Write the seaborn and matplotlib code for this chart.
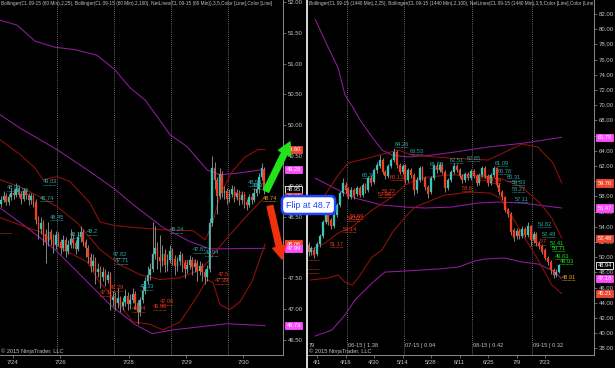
import numpy as np
import pandas as pd
import matplotlib
matplotlib.use("Agg")
import matplotlib.pyplot as plt
import matplotlib.transforms as mtrans
from matplotlib.lines import Line2D
import seaborn as sns

# ---------------- data: left panel (CL 09-15, 60 min) ----------------
l_open = [48.72, 48.78, 48.85, 48.75, 48.82, 48.90, 48.86, 48.95, 48.88, 48.80,
          48.92, 48.86, 48.78, 48.84, 48.74, 48.45, 48.30, 48.40, 48.22, 48.10,
          48.25, 48.15, 48.05, 48.20, 48.10, 48.00, 48.12, 47.95, 48.05, 48.15,
          48.08, 47.98, 48.18, 48.25, 48.10, 48.00, 47.85, 47.70, 47.78, 47.60,
          47.65, 47.52, 47.60, 47.48, 47.55, 47.15, 47.20, 47.10, 47.18, 47.05,
          47.12, 47.22, 47.08, 47.15, 47.25, 47.10, 46.95, 47.15, 47.30, 47.45,
          47.55, 47.65, 47.90, 48.00, 47.85, 47.78, 47.90, 47.72, 47.80, 47.95,
          47.82, 47.70, 47.78, 47.88, 47.75, 47.65, 47.72, 47.80, 47.68, 47.75,
          47.62, 47.70, 47.60, 47.52, 47.65, 48.40, 49.30, 49.10, 48.85, 49.20,
          48.90, 48.92, 48.80, 48.88, 48.95, 48.82, 48.90, 48.78, 48.86, 48.75,
          48.70, 48.82, 48.78, 48.90, 48.95, 49.15, 49.27]
l_close = [48.78, 48.85, 48.75, 48.82, 48.90, 48.86, 48.95, 48.88, 48.80, 48.92,
           48.86, 48.78, 48.84, 48.74, 48.45, 48.30, 48.40, 48.22, 48.10, 48.25,
           48.15, 48.05, 48.20, 48.10, 48.00, 48.12, 47.95, 48.05, 48.15, 48.08,
           47.98, 48.18, 48.25, 48.10, 48.00, 47.85, 47.70, 47.78, 47.60, 47.65,
           47.52, 47.60, 47.48, 47.55, 47.15, 47.20, 47.10, 47.18, 47.05, 47.12,
           47.22, 47.08, 47.15, 47.25, 47.10, 46.95, 47.15, 47.30, 47.45, 47.55,
           47.65, 47.90, 48.00, 47.85, 47.78, 47.90, 47.72, 47.80, 47.95, 47.82,
           47.70, 47.78, 47.88, 47.75, 47.65, 47.72, 47.80, 47.68, 47.75, 47.62,
           47.70, 47.60, 47.52, 47.65, 48.40, 49.30, 49.10, 48.85, 49.20, 48.90,
           48.92, 48.80, 48.88, 48.95, 48.82, 48.90, 48.78, 48.86, 48.75, 48.70,
           48.82, 48.78, 48.90, 48.95, 49.15, 49.30, 48.95]
l_high = [48.84, 48.92, 48.90, 48.88, 48.98, 48.96, 49.05, 49.00, 48.92, 48.98,
          48.96, 48.90, 48.90, 48.88, 48.80, 48.52, 48.50, 48.45, 48.30, 48.42,
          48.30, 48.22, 48.28, 48.25, 48.15, 48.20, 48.18, 48.12, 48.30, 48.22,
          48.12, 48.25, 48.35, 48.30, 48.15, 48.05, 47.92, 47.90, 47.85, 47.75,
          47.70, 47.68, 47.65, 47.62, 47.60, 47.30, 47.28, 47.35, 47.22, 47.20,
          47.32, 47.28, 47.25, 47.35, 47.30, 47.15, 47.20, 47.38, 47.52, 47.70,
          47.75, 48.42, 48.35, 48.10, 48.20, 48.05, 47.98, 47.90, 48.05, 48.00,
          47.88, 47.85, 47.95, 47.92, 47.80, 47.80, 47.88, 47.85, 47.82, 47.80,
          47.78, 47.75, 47.65, 47.72, 48.48, 49.50, 49.40, 49.15, 49.30, 49.25,
          49.00, 48.98, 48.95, 49.02, 49.00, 48.96, 48.94, 48.92, 48.90, 48.80,
          48.88, 48.90, 48.98, 49.05, 49.22, 49.38, 49.32]
l_low = [48.66, 48.74, 48.70, 48.70, 48.78, 48.80, 48.83, 48.82, 48.72, 48.76,
         48.80, 48.70, 48.72, 48.66, 48.38, 48.15, 48.22, 48.05, 47.75, 48.02,
         48.05, 47.92, 47.98, 48.02, 47.90, 47.95, 47.85, 47.90, 48.00, 48.00,
         47.90, 47.95, 48.10, 48.02, 47.85, 47.75, 47.60, 47.62, 47.40, 47.52,
         47.35, 47.45, 47.38, 47.42, 46.98, 47.05, 46.98, 47.02, 46.95, 46.98,
         47.05, 46.98, 47.00, 47.10, 47.00, 46.75, 46.88, 47.10, 47.25, 47.40,
         47.48, 47.60, 47.82, 47.65, 47.60, 47.70, 47.60, 47.62, 47.75, 47.72,
         47.55, 47.62, 47.72, 47.60, 47.50, 47.58, 47.65, 47.55, 47.60, 47.45,
         47.55, 47.45, 47.40, 47.45, 47.60, 48.35, 48.95, 48.55, 48.80, 48.82,
         48.80, 48.72, 48.75, 48.82, 48.75, 48.78, 48.70, 48.72, 48.65, 48.62,
         48.66, 48.72, 48.74, 48.85, 48.90, 49.10, 48.88]

# Bollinger lines, left (bar index, price)
l_bb100_up_x = [-0.5, 6.4, 13.6, 21.7, 29.7, 38.6, 41.0, 45.9, 51.9, 58.0, 63.2, 68.1, 74.9, 83.0, 88.2, 96.3, 106.4]
l_bb100_up_y = [51.71, 51.63, 51.37, 51.27, 51.23, 51.14, 51.06, 50.90, 50.61, 50.41, 50.12, 49.84, 49.65, 49.27, 49.19, 49.22, 49.28]
l_bb100_mid_x = [-0.5, 7.6, 22.5, 35.8, 45.9, 53.9, 65.2, 76.1, 84.2, 106.4]
l_bb100_mid_y = [50.17, 49.95, 49.60, 49.24, 48.95, 48.68, 48.33, 48.10, 47.98, 47.99]
l_bb100_lo_x = [-0.5, 11.6, 21.7, 31.8, 43.9, 53.9, 60.8, 69.3, 80.1, 91.0, 106.4]
l_bb100_lo_y = [48.65, 48.29, 47.97, 47.56, 47.07, 46.75, 46.60, 46.66, 46.71, 46.76, 46.73]
l_bb25_up_x = [-0.5, 7.6, 13.6, 16.8, 22.5, 27.7, 35.8, 39.8, 45.9, 53.9, 66.0, 77.3, 82.2, 85.0, 88.2, 93.1, 98.3, 103.5, 106.4]
l_bb25_up_y = [49.76, 49.52, 49.30, 49.11, 49.16, 49.08, 48.73, 48.42, 48.36, 48.33, 48.29, 48.28, 48.13, 48.37, 48.86, 49.24, 49.48, 49.60, 49.60]
l_bb25_mid_x = [-0.5, 7.6, 15.6, 22.5, 30.5, 39.8, 47.9, 56.0, 64.0, 72.1, 80.1, 83.4, 86.2, 92.2, 98.3, 106.4]
l_bb25_mid_y = [49.11, 48.99, 48.83, 48.67, 48.41, 47.97, 47.72, 47.56, 47.48, 47.51, 47.64, 47.77, 47.93, 48.21, 48.49, 48.83]
l_bb25_lo_x = [-0.5, 7.6, 15.6, 24.9, 34.6, 39.8, 47.9, 53.1, 60.0, 65.2, 72.1, 78.1, 83.0, 85.4, 88.2, 92.2, 96.3, 101.1, 106.4]
l_bb25_lo_y = [48.49, 48.37, 48.26, 47.97, 47.77, 47.43, 47.07, 46.79, 46.75, 46.66, 46.79, 47.15, 47.48, 47.43, 47.07, 46.99, 47.12, 47.45, 48.06]

l_dates = ["7/24", "7/26", "7/28", "7/29", "7/30"]
l_sessions = [22.5, 45.5, 68.5, 91.5]

l_teal_lab = ["48.96", "48.90", "49.03", "48.74", "48.45", "48.18", "48.2", "47.82", "47.71",
              "48.24", "47.33", "47.87", "47.94", "48.93", "48.97"]
l_teal_x = [2.3, 5.5, 16.8, 15.6, 19.7, 27.7, 34.6, 45.1, 45.9, 68.0, 56.0, 77.3, 82.2, 99.5, 101.0]
l_teal_y = [48.98, 48.93, 49.08, 48.81, 48.50, 48.21, 48.26, 47.89, 47.79, 48.29, 47.36, 47.97, 47.92, 49.06, 49.01]
l_red_lab = ["47.29", "47.1", "47.06", "46.94", "46.96", "47.5", "47.39", "47.61", "48.71"]
l_red_x = [43.9, 39.8, 64.0, 52.7, 61.2, 87.4, 86.2, 73.3, 93.5]
l_red_y = [47.35, 47.27, 47.12, 47.01, 47.04, 47.56, 47.46, 47.76, 48.86]
l_orange_lab = ["48.74"]
l_orange_x = [105.5]
l_orange_y = [48.81]

l_tags = ["49.60", "49.28", "48.95", "48.83", "48.06", "47.99", "46.73"]
l_tag_kind = ["red", "mag", "last", "red", "red", "mag", "mag"]

# ---------------- data: right panel (CL 09-15, daily) ----------------
r_open = [51.60, 50.68, 50.94, 50.41, 51.73, 52.78, 54.62, 55.94, 54.89, 54.10,
          55.55, 56.86, 58.44, 59.49, 59.10, 57.91, 58.84, 58.31, 59.10, 58.18,
          59.49, 58.84, 60.42, 59.90, 61.47, 61.99, 62.78, 61.20, 60.68, 61.99,
          62.78, 63.84, 62.13, 61.20, 61.99, 60.15, 61.47, 60.81, 58.84, 60.15,
          61.73, 60.42, 59.23, 58.57, 60.42, 61.99, 61.47, 62.13, 61.20, 59.10,
          60.15, 61.20, 61.99, 61.47, 60.68, 60.15, 60.94, 60.42, 61.34, 60.68,
          59.76, 60.81, 61.73, 60.68, 59.76, 60.81, 61.73, 59.49, 58.57, 57.91,
          56.20, 55.68, 53.57, 52.78, 53.44, 52.78, 53.70, 52.91, 54.10, 52.26,
          53.05, 51.86, 51.47, 50.94, 49.89, 49.36, 48.31, 47.65, 48.10]
r_close = [50.68, 51.20, 50.28, 51.73, 52.78, 54.62, 56.20, 54.62, 54.10, 55.55,
           56.86, 58.44, 59.76, 58.84, 57.91, 58.84, 58.05, 59.10, 58.18, 59.49,
           58.84, 60.42, 59.76, 61.47, 62.13, 62.78, 61.20, 60.68, 61.99, 62.78,
           63.84, 62.13, 61.20, 61.99, 60.15, 61.47, 60.81, 58.84, 60.15, 61.73,
           60.42, 59.23, 58.31, 60.42, 61.99, 61.47, 62.13, 61.20, 59.10, 60.15,
           61.20, 61.99, 61.47, 60.68, 60.15, 60.94, 60.42, 61.34, 60.68, 59.76,
           60.81, 61.73, 60.68, 59.76, 60.81, 61.73, 59.49, 58.57, 57.91, 56.20,
           55.68, 53.31, 52.52, 53.44, 52.78, 53.70, 52.91, 54.10, 52.26, 53.05,
           51.86, 51.47, 50.68, 49.89, 49.36, 48.31, 47.65, 48.10, 48.94]
r_high = [52.00, 51.50, 51.30, 52.00, 53.10, 54.90, 56.60, 56.10, 55.20, 55.80,
          57.10, 58.70, 60.42, 59.90, 59.30, 59.20, 59.10, 59.40, 59.40, 59.80,
          59.80, 60.70, 60.80, 61.80, 62.50, 63.44, 63.00, 61.50, 62.30, 63.10,
          64.36, 64.10, 62.40, 62.30, 62.20, 61.80, 61.70, 61.10, 60.50, 62.00,
          62.00, 60.70, 59.50, 60.70, 62.30, 62.40, 62.50, 62.40, 61.50, 60.40,
          61.50, 62.40, 62.30, 61.70, 60.90, 61.20, 61.20, 61.60, 61.60, 60.90,
          61.10, 62.00, 62.00, 60.90, 61.10, 62.00, 61.90, 59.80, 58.80, 58.10,
          56.50, 55.90, 53.80, 53.80, 53.70, 54.10, 54.00, 54.62, 54.30, 53.40,
          53.30, 52.10, 51.70, 51.20, 50.10, 49.60, 48.60, 48.40, 49.10]
r_low = [50.15, 50.30, 49.90, 50.20, 51.40, 52.50, 54.40, 54.30, 53.70, 53.90,
         55.30, 56.60, 58.10, 58.40, 57.60, 57.60, 57.70, 58.00, 57.90, 57.90,
         58.50, 58.60, 59.40, 59.60, 61.10, 61.70, 60.90, 60.30, 60.40, 61.70,
         62.50, 61.80, 60.90, 60.90, 59.80, 59.90, 60.40, 58.18, 58.50, 59.90,
         60.10, 58.90, 57.78, 58.30, 60.10, 61.10, 61.20, 60.90, 58.60, 58.80,
         59.90, 60.90, 61.20, 60.40, 59.80, 59.90, 60.10, 60.10, 60.40, 59.40,
         59.50, 60.50, 60.40, 59.40, 59.50, 60.50, 59.20, 58.20, 57.50, 55.90,
         55.30, 52.90, 52.10, 52.40, 52.40, 52.50, 52.60, 52.70, 51.47, 51.90,
         51.50, 51.10, 50.40, 49.60, 49.00, 47.78, 47.26, 47.40, 47.90]

r_bb100_up_x = [2.3, 6.5, 10.4, 12.8, 15.3, 18.1, 22.3, 25.8, 29.3, 34.9, 43.3, 51.4, 63.0, 75.9, 88.9]
r_bb100_up_y = [81.34, 77.92, 74.89, 71.34, 69.89, 68.05, 65.81, 64.10, 63.44, 63.18, 63.44, 63.84, 64.49, 65.02, 65.78]
r_bb100_mid_x = [2.3, 10.4, 16.3, 25.8, 33.9, 40.9, 50.4, 59.5, 66.5, 74.9, 80.5, 88.9]
r_bb100_mid_y = [60.41, 58.84, 57.78, 56.86, 56.60, 56.47, 56.60, 57.13, 57.26, 57.13, 56.86, 56.47]
r_bb100_lo_x = [2.3, 8.2, 12.8, 16.3, 22.3, 26.8, 33.9, 45.4, 52.5, 58.4, 61.9, 68.9, 74.9, 80.5, 85.4, 88.9]
r_bb100_lo_y = [39.62, 40.41, 42.39, 44.36, 46.60, 48.04, 48.18, 48.44, 48.70, 49.49, 49.76, 49.89, 49.36, 49.10, 48.31, 47.18]
r_bb25_up_x = [0.5, 5.8, 10.4, 13.9, 22.3, 31.4, 36.3, 48.9, 63.0, 69.0, 74.9, 80.5, 85.8, 88.9]
r_bb25_up_y = [55.55, 58.18, 60.81, 62.39, 63.18, 64.10, 63.44, 63.05, 62.78, 63.84, 64.89, 64.49, 62.39, 59.76]
r_bb25_mid_x = [0.5, 5.8, 10.4, 15.3, 22.3, 29.3, 33.9, 39.1, 48.9, 56.7, 63.7, 69.0, 74.9, 81.2, 85.4, 88.9]
r_bb25_mid_y = [50.94, 51.86, 53.18, 53.97, 56.20, 57.91, 59.49, 60.41, 60.81, 60.81, 60.55, 60.15, 59.23, 57.13, 55.15, 52.48]
r_bb25_lo_x = [0.5, 6.8, 10.4, 12.8, 15.3, 17.4, 22.3, 25.8, 29.3, 33.9, 37.4, 47.9, 56.7, 63.7, 67.2, 70.7, 75.3, 80.2, 85.4, 88.9]
r_bb25_lo_y = [46.99, 47.26, 47.65, 46.73, 46.33, 47.26, 50.02, 50.94, 53.18, 55.28, 56.60, 58.18, 58.57, 58.44, 57.78, 55.81, 52.91, 49.89, 46.33, 45.21]

r_dates = ["4/1", "4/16", "4/30", "5/14", "5/28", "6/11", "6/25", "7/9", "7/23"]
r_date_pos = [3, 13, 23, 33, 43, 53, 63, 73, 83]
r_rolls = ["79", "06-15 | 1.38", "07-15 | 0.94", "08-15 | 0.42", "09-15 | 0.32"]
r_roll_pos = [-0.1, 13.5, 33.5, 57.5, 78.5]

r_teal_lab = ["64.26", "63.53", "60.26", "61.58", "62.51", "62.65", "61.09", "60.78", "60.31",
              "59.93", "58.27", "57.11", "53.82", "52.49"]
r_teal_x = [30.4, 35.6, 18.8, 42.6, 49.6, 55.6, 65.4, 66.5, 69.6, 71.4, 71.4, 72.5, 80.5, 81.9]
r_teal_y = [64.89, 63.97, 60.81, 62.13, 62.78, 63.05, 62.39, 61.34, 60.42, 59.89, 58.97, 57.65, 54.36, 53.05]
r_green_lab = ["52.41", "50.71", "49.63", "49.03"]
r_green_x = [84.7, 85.4, 86.5, 88.2]
r_green_y = [51.86, 51.20, 50.15, 49.49]
r_red_lab = ["60.13", "58.22", "57.96", "54.69", "54.52", "53.14", "51.17", "58.6", "59.59", "60.04", "51.57"]
r_red_x = [28.6, 25.8, 24.4, 14.6, 13.5, 12.1, 7.5, 53.9, 63.0, 59.1, 78.8]
r_red_y = [60.55, 58.70, 58.31, 55.41, 55.15, 53.70, 51.73, 59.10, 60.15, 60.55, 52.00]
r_orange_lab = ["48.91"]
r_orange_x = [88.9]
r_orange_y = [47.39]

r_tags = ["65.78", "59.76", "56.47", "52.48", "48.94", "47.18", "45.21"]
r_tag_kind = ["mag", "red", "mag", "red", "last", "mag", "red"]

# ---------------- style ----------------
UP = "#3cc4b8"
DN = "#f0401e"
WICK = "#8e8e8e"
MAG = "#931c9e"
DRED = "#92120a"
TEAL_T = "#2fa9a9"
RED_T = "#ee3a1c"
GREEN_T = "#1fe01f"
ORANGE_T = "#e8a020"
GRID = "#8a8a8a"
TXT = "#c4c4c4"
TAGC = {"red": "#f0462e", "mag": "#ff4cff", "last": "#000000"}

sns.set_style("dark", {"axes.facecolor": "black", "figure.facecolor": "black"})
plt.rcParams["font.family"] = ["Liberation Sans", "DejaVu Sans"]

W, H = 615, 368
fig = plt.figure(figsize=(W / 100, H / 100), dpi=100)
fig.patch.set_facecolor("black")
axL = fig.add_axes([0, 13 / H, 283 / W, 355 / H])
axR = fig.add_axes([308 / W, 13 / H, 286 / W, 355 / H])


def candles(ax, o, h, l, c, width):
    o, h, l, c = map(np.asarray, (o, h, l, c))
    x = np.arange(len(c))
    ax.vlines(x, l, h, color=WICK, lw=0.65, zorder=3)
    up = c >= o
    dn = ~up
    ax.bar(x[up], np.maximum(c[up] - o[up], 0.004), bottom=o[up], width=width,
           color=UP, edgecolor=UP, lw=0.2, zorder=4)
    ax.bar(x[dn], o[dn] - c[dn], bottom=c[dn], width=width,
           color=DN, edgecolor=DN, lw=0.2, zorder=4)


def band(ax, xs, ys, color):
    df = pd.DataFrame({"x": xs, "y": ys})
    sns.lineplot(data=df, x="x", y="y", ax=ax, color=color, lw=0.75,
                 legend=False, estimator=None, zorder=2)


def labels(ax, labs, xs, ys, color, charw):
    off_t = mtrans.offset_copy(ax.transData, fig=fig, y=-3.2, units="dots")
    for s, x, y in zip(labs, xs, ys):
        ax.text(x, y, s, color=color, fontsize=4.1, ha="left", va="center", zorder=6,
                clip_on=True)
        ax.plot([x, x + charw * len(s)], [y, y], transform=off_t, color=color,
                lw=0.6, ls=(0, (0.8, 0.8)), zorder=6, clip_on=True)


def tags(ax, vals, kinds):
    tr = ax.get_yaxis_transform()
    for s, k in zip(vals, kinds):
        fc = TAGC[k]
        ec = "#ffffff" if k == "last" else fc
        ax.text(1.012, float(s), s, transform=tr, fontsize=4.1, color="white",
                ha="left", va="center", zorder=10, clip_on=False,
                bbox=dict(boxstyle="square,pad=0.18", fc=fc, ec=ec, lw=0.6))


def style_axes(ax, ylim, yticks, xlim):
    ax.set_facecolor("black")
    ax.set_xlim(*xlim)
    ax.set_ylim(*ylim)
    ax.yaxis.tick_right()
    ax.set_yticks(yticks)
    ax.set_yticklabels([f"{v:.2f}" for v in yticks])
    ax.tick_params(axis="y", labelsize=4.3, labelcolor=TXT, color=GRID,
                   length=2, width=0.5, pad=1.5, right=True, left=False)
    ax.tick_params(axis="x", labelsize=4.3, labelcolor=TXT, color=GRID,
                   length=2, width=0.5, pad=1.5, bottom=True)
    for side in ["top", "left"]:
        ax.spines[side].set_visible(False)
    for side in ["right", "bottom"]:
        ax.spines[side].set_visible(True)
        ax.spines[side].set_color(GRID)
        ax.spines[side].set_linewidth(0.7)
    ax.grid(False)
    ax.set_xlabel("")
    ax.set_ylabel("")


# ---------- left panel ----------
for v in l_sessions:
    axL.axvline(v, color=GRID, lw=0.6, ls=(0, (1, 1.5)), zorder=1)
band(axL, l_bb100_up_x, l_bb100_up_y, MAG)
band(axL, l_bb100_mid_x, l_bb100_mid_y, MAG)
band(axL, l_bb100_lo_x, l_bb100_lo_y, MAG)
band(axL, l_bb25_up_x, l_bb25_up_y, DRED)
band(axL, l_bb25_mid_x, l_bb25_mid_y, DRED)
band(axL, l_bb25_lo_x, l_bb25_lo_y, DRED)
candles(axL, l_open, l_high, l_low, l_close, 0.62)
labels(axL, l_teal_lab, l_teal_x, l_teal_y, TEAL_T, 1.05)
labels(axL, l_red_lab, l_red_x, l_red_y, RED_T, 1.05)
labels(axL, l_orange_lab, l_orange_x, l_orange_y, ORANGE_T, 1.05)
axL.plot([-0.5, 4.3], [48.24, 48.24], color=RED_T, lw=0.6, ls=(0, (0.8, 0.8)), zorder=6)
style_axes(axL, (46.25, 52.04), [46.5 + 0.5 * k for k in range(12)], (-0.5, 113.6))
axL.set_xticks([4.7, 23.7, 51.5, 74.5, 97.5])
axL.set_xticklabels(l_dates)
tags(axL, l_tags, l_tag_kind)
axL.text(0.002, 0.997,
         "Bollinger(CL 09-15 (60 Min),2,25), Bollinger(CL 09-15 (60 Min),2,100), "
         "NetLines(CL 09-15 (60 Min)),3,5,Color [Line],Color [Line]",
         transform=axL.transAxes, fontsize=3.4, color=TXT, ha="left", va="top",
         clip_on=True, zorder=8)
axL.text(0.003, 0.004, "\u00a9 2015 NinjaTrader, LLC", transform=axL.transAxes,
         fontsize=4.1, color=TXT, ha="left", va="bottom", zorder=8)

# ---------- right panel ----------
for v in r_roll_pos[1:]:
    axR.axvline(v, color=GRID, lw=0.6, ls=(0, (1, 1.5)), zorder=1)
band(axR, r_bb100_up_x, r_bb100_up_y, MAG)
band(axR, r_bb100_mid_x, r_bb100_mid_y, MAG)
band(axR, r_bb100_lo_x, r_bb100_lo_y, MAG)
band(axR, r_bb25_up_x, r_bb25_up_y, DRED)
band(axR, r_bb25_mid_x, r_bb25_mid_y, DRED)
band(axR, r_bb25_lo_x, r_bb25_lo_y, DRED)
candles(axR, r_open, r_high, r_low, r_close, 0.68)
labels(axR, r_teal_lab, r_teal_x, r_teal_y, TEAL_T, 0.92)
labels(axR, r_red_lab, r_red_x, r_red_y, RED_T, 0.92)
labels(axR, r_green_lab, r_green_x, r_green_y, GREEN_T, 0.92)
labels(axR, r_orange_lab, r_orange_x, r_orange_y, ORANGE_T, 0.92)
for yv in [49.62, 48.44, 47.91]:
    axR.plot([-0.2, 3.8], [yv, yv], color=RED_T, lw=0.6, ls=(0, (0.8, 0.8)), zorder=6)
style_axes(axR, (37.13, 83.84), [38 + 2 * k for k in range(23)], (-0.18, 100.2))
axR.set_xticks(r_date_pos)
axR.set_xticklabels(r_dates)
tags(axR, r_tags, r_tag_kind)
btr = axR.get_xaxis_transform()
for s, p in zip(r_rolls, r_roll_pos):
    axR.text(p + 0.3, 0.028, s, transform=btr, fontsize=4.1, color=TXT,
             ha="left", va="center", zorder=8, clip_on=True)
axR.text(0.005, 0.004, "\u00a9 2015 NinjaTrader, LLC", transform=axR.transAxes,
         fontsize=4.1, color=TXT, ha="left", va="bottom", zorder=8)
axR.text(0.005, 0.997,
         "Bollinger(CL 09-15 (1440 Min),2,25), Bollinger(CL 09-15 (1440 Min),2,100), "
         "NetLines(CL 09-15 (1440 Min),3,5,Color [Line],Color [Line]",
         transform=axR.transAxes, fontsize=3.4, color=TXT, ha="left", va="top",
         clip_on=True, zorder=8)

# panel separator
fig.add_artist(Line2D([306.5 / W, 306.5 / W], [0, 1], color="#d8d8d8", lw=1.4))

# arrows + flip box
axR.annotate("", xy=(290, H - 142), xytext=(266, H - 191), xycoords="figure pixels",
             textcoords="figure pixels", annotation_clip=False, zorder=15,
             arrowprops=dict(arrowstyle="simple,head_length=0.9,head_width=0.95,tail_width=0.42",
                             color="#22e21a", mutation_scale=10, shrinkA=0, shrinkB=0))
axR.annotate("", xy=(282, H - 259), xytext=(270, H - 206), xycoords="figure pixels",
             textcoords="figure pixels", annotation_clip=False, zorder=15,
             arrowprops=dict(arrowstyle="simple,head_length=0.9,head_width=0.95,tail_width=0.42",
                             color="#f2300e", mutation_scale=10, shrinkA=0, shrinkB=0))
fig.text(308.5 / W, 1 - 205 / H, "Flip at 48.7", ha="center", va="center", fontsize=6.4,
         color="#1e46ff", zorder=20,
         bbox=dict(boxstyle="round,pad=0.5,rounding_size=0.55", fc="white",
                   ec="#1e46ff", lw=1.8))

fig.savefig("out.png", dpi=100, facecolor="black")
